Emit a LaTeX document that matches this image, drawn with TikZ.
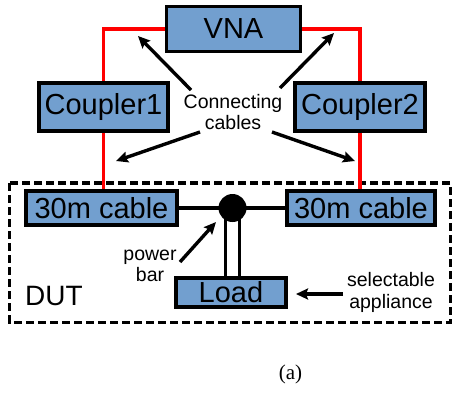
\documentclass[tikz,border=0pt]{standalone}
\usepackage{fontspec}
\setmainfont{Liberation Sans}
\newfontfamily\capfont{Liberation Serif}
\usetikzlibrary{arrows.meta,backgrounds}
\definecolor{boxblue}{HTML}{729FCF}
\begin{document}
\begin{tikzpicture}[x=1pt,y=-1pt,
  blk/.style={draw=black,line width=3.8pt,fill=boxblue,inner sep=0pt,
    font=\fontsize{29}{31}\selectfont},
  cable/.style={draw=red,line width=3.4pt},
  wire/.style={draw=black,line width=3.6pt},
  pointer/.style={draw=black,line width=3.4pt,-{Stealth[length=12pt,width=11pt,inset=2pt]}},
  lbl/.style={align=center,inner sep=0pt,font=\fontsize{19.5}{21.5}\selectfont}]
\useasboundingbox (0,0) rectangle (452,392);
% DUT frame
\draw[line width=3.2pt,dash pattern=on 8pt off 4pt] (9.5,183) rectangle (450.3,322.5);
% boxes
\node[blk,minimum width=134pt,minimum height=45pt] (vna) at (233.5,29) {VNA};
\node[blk,minimum width=129pt,minimum height=48pt] (c1) at (103.5,107) {Coupler1};
\node[blk,minimum width=130pt,minimum height=48pt] (c2) at (360,107) {Coupler2};
\node[blk,minimum width=151pt,minimum height=34pt] (l1) at (101.5,208) {30m cable};
\node[blk,minimum width=148pt,minimum height=34pt] (r1) at (361,208) {30m cable};
\node[blk,minimum width=110pt,minimum height=29pt] (load) at (231,292.5) {Load};
\node[circle,fill=black,inner sep=0pt,minimum size=28pt] (dot) at (232.5,208) {};
% red cables
\draw[cable] (vna.west) -| (c1.north);
\draw[cable] (vna.east) -| (c2.north);
\draw[cable] (c1.south) -- (c1.south |- l1.north);
\draw[cable] (c2.south) -- (c2.south |- r1.north);
% power bar wiring
\begin{scope}[on background layer]
\draw[wire] (l1.east) -- (dot.center) -- (r1.west);
\draw[wire] ([xshift=-7pt]dot.center) -- ([xshift=-7pt]dot.center |- load.north);
\draw[wire] ([xshift=7pt]dot.center) -- ([xshift=7pt]dot.center |- load.north);
\end{scope}
% labels
\node[lbl] (cc) at (233,112) {Connecting\\cables};
\node[lbl] (pb) at (150,266) {power\\bar};
\node[lbl] (sa) at (391,292.5) {selectable\\appliance};
\node[inner sep=0pt,anchor=base west,font=\fontsize{28}{30}\selectfont] (dut) at (25,305) {DUT};
\node[inner sep=0pt,anchor=base,font=\capfont\fontsize{21}{23}\selectfont] (cap) at (290.5,379) {(a)};
% arrows
\coordinate (a1s) at (191,90);  \coordinate (a1e) at (138,36);
\coordinate (a2s) at (280,88);  \coordinate (a2e) at (334,33);
\coordinate (a3s) at (200,132); \coordinate (a3e) at (116,161);
\coordinate (a4s) at (272,132); \coordinate (a4e) at (355,161);
\coordinate (a5s) at (180,262); \coordinate (a5e) at (216,222);
\coordinate (a6s) at (343,294); \coordinate (a6e) at (296,294);
\draw[pointer] (a1s) -- (a1e);
\draw[pointer] (a2s) -- (a2e);
\draw[pointer] (a3s) -- (a3e);
\draw[pointer] (a4s) -- (a4e);
\draw[pointer] (a5s) -- (a5e);
\draw[pointer] (a6s) -- (a6e);
\end{tikzpicture}
\end{document}
